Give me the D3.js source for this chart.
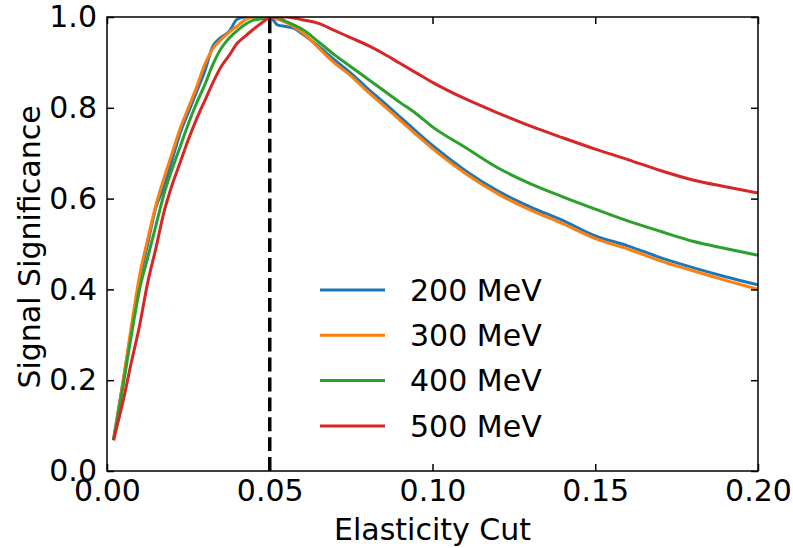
<!DOCTYPE html>
<html>
<head>
<meta charset="utf-8">
<script src="https://cdn.jsdelivr.net/npm/d3@7"></script>
<style>
  html, body { margin: 0; padding: 0; background: #fff; }
  svg { display: block; }
  text { font-family: "DejaVu Sans", sans-serif; fill: #000; }
</style>
</head>
<body>
<svg id="chart" width="793" height="548"></svg>
<script>
// ---- data ----
const cuts = [0.002, 0.005, 0.0075, 0.01, 0.0125, 0.015, 0.0175, 0.02, 0.0225, 0.025, 0.0275, 0.03, 0.0325, 0.035, 0.0375, 0.04, 0.0425, 0.045, 0.0475, 0.05, 0.0525, 0.055, 0.0575, 0.06, 0.065, 0.07, 0.075, 0.08, 0.085, 0.09, 0.095, 0.10, 0.11, 0.12, 0.13, 0.14, 0.15, 0.16, 0.17, 0.18, 0.19, 0.20];
const sig200 = [0.068, 0.20, 0.31, 0.42, 0.50, 0.58, 0.625, 0.685, 0.745, 0.79, 0.835, 0.88, 0.935, 0.955, 0.968, 0.995, 1.0, 1.0, 1.0, 1.0, 0.982, 0.979, 0.975, 0.963, 0.935, 0.905, 0.876, 0.843, 0.812, 0.78, 0.748, 0.717, 0.662, 0.617, 0.582, 0.552, 0.518, 0.496, 0.47, 0.448, 0.428, 0.41];
const sig300 = [0.068, 0.20, 0.32, 0.43, 0.51, 0.585, 0.645, 0.70, 0.755, 0.80, 0.845, 0.895, 0.93, 0.95, 0.966, 0.98, 0.994, 1.0, 1.0, 1.0, 0.995, 0.988, 0.978, 0.966, 0.932, 0.898, 0.87, 0.836, 0.805, 0.773, 0.741, 0.71, 0.656, 0.611, 0.575, 0.545, 0.512, 0.489, 0.463, 0.441, 0.42, 0.40];
const sig400 = [0.068, 0.19, 0.30, 0.40, 0.47, 0.54, 0.61, 0.665, 0.715, 0.765, 0.81, 0.85, 0.895, 0.93, 0.953, 0.97, 0.984, 0.993, 0.996, 1.0, 0.998, 0.99, 0.982, 0.973, 0.945, 0.916, 0.89, 0.864, 0.838, 0.812, 0.787, 0.758, 0.713, 0.668, 0.633, 0.604, 0.577, 0.551, 0.528, 0.506, 0.49, 0.475];
const sig500 = [0.068, 0.156, 0.24, 0.32, 0.415, 0.49, 0.57, 0.63, 0.68, 0.73, 0.775, 0.815, 0.855, 0.89, 0.915, 0.942, 0.958, 0.973, 0.987, 0.998, 1.0, 1.0, 0.998, 0.994, 0.986, 0.97, 0.954, 0.938, 0.919, 0.898, 0.877, 0.856, 0.82, 0.789, 0.76, 0.734, 0.709, 0.686, 0.662, 0.641, 0.626, 0.612];
const seriesNames = ["200 MeV", "300 MeV", "400 MeV", "500 MeV"];
const seriesColors = ["#1f77b4", "#ff7f0e", "#2ca02c", "#d62728"];
const xTicks = [0.00, 0.05, 0.10, 0.15, 0.20];
const yTicks = [0.0, 0.2, 0.4, 0.6, 0.8, 1.0];
const cutLine = 0.05;
const xTitle = "Elasticity Cut";
const yTitle = "Signal Significance";

const seriesValues = [sig200, sig300, sig400, sig500];

// ---- layout ----
const L = 107, R = 758, T = 17, B = 471;
const FS = 30;
const svg = d3.select("#chart");
const x = d3.scaleLinear().domain([0, 0.2]).range([L, R]);
const y = d3.scaleLinear().domain([0, 1]).range([B, T]);

svg.append("defs").append("clipPath").attr("id", "clip")
  .append("rect").attr("x", L).attr("y", T).attr("width", R - L).attr("height", B - T);

const plot = svg.append("g").attr("clip-path", "url(#clip)");

const line = d3.line().curve(d3.curveMonotoneX).x(d => x(d[0])).y(d => y(d[1]));
seriesValues.forEach((vals, i) => {
  plot.append("path")
    .datum(cuts.map((c, j) => [c, vals[j]]))
    .attr("d", line)
    .attr("fill", "none")
    .attr("stroke", seriesColors[i])
    .attr("stroke-width", 3)
    .attr("stroke-linejoin", "round")
    .attr("stroke-linecap", "butt");
});

// dashed vertical line
plot.append("line")
  .attr("x1", x(cutLine)).attr("x2", x(cutLine))
  .attr("y1", y(0)).attr("y2", y(1))
  .attr("stroke", "#000").attr("stroke-width", 3.5)
  .attr("stroke-dasharray", "13.9,6");

// axes (ticks inward, on all sides)
const tickLen = 7;
const fmt2 = d3.format(".2f"), fmt1 = d3.format(".1f");
const axB = svg.append("g").attr("transform", `translate(0,${B})`)
  .call(d3.axisBottom(x).tickValues(xTicks).tickSize(-tickLen).tickPadding(9).tickFormat(fmt2));
const axT = svg.append("g").attr("transform", `translate(0,${T})`)
  .call(d3.axisTop(x).tickValues(xTicks).tickSize(-tickLen).tickFormat(""));
const axL = svg.append("g").attr("transform", `translate(${L},0)`)
  .call(d3.axisLeft(y).tickValues(yTicks).tickSize(-tickLen).tickPadding(10).tickFormat(fmt1));
const axR = svg.append("g").attr("transform", `translate(${R},0)`)
  .call(d3.axisRight(y).tickValues(yTicks).tickSize(-tickLen).tickFormat(""));
[axB, axT, axL, axR].forEach(g => {
  g.select(".domain").remove();
  g.selectAll(".tick line").attr("stroke", "#000").attr("stroke-width", 1.5);
  g.selectAll(".tick text").attr("font-family", "DejaVu Sans").attr("font-size", FS).attr("fill", "#000");
});

// frame
svg.append("rect").attr("x", L).attr("y", T).attr("width", R - L).attr("height", B - T)
  .attr("fill", "none").attr("stroke", "#000").attr("stroke-width", 1.5);

// titles
svg.append("text").attr("x", (L + R) / 2).attr("y", 540)
  .attr("text-anchor", "middle").attr("font-size", FS).text(xTitle);
svg.append("text")
  .attr("transform", `translate(40,${(T + B) / 2 + 3}) rotate(-90)`)
  .attr("text-anchor", "middle").attr("font-size", FS).text(yTitle);

// legend
const legY0 = 290, legDy = 45.3;
seriesNames.forEach((name, i) => {
  const g = svg.append("g").attr("transform", `translate(0,${legY0 + i * legDy})`);
  g.append("line").attr("x1", 320).attr("x2", 385).attr("y1", 0).attr("y2", 0)
    .attr("stroke", seriesColors[i]).attr("stroke-width", 3);
  g.append("text").attr("x", 410).attr("y", 0).attr("dy", "0.36em")
    .attr("font-size", FS).text(name);
});
</script>
</body>
</html>
